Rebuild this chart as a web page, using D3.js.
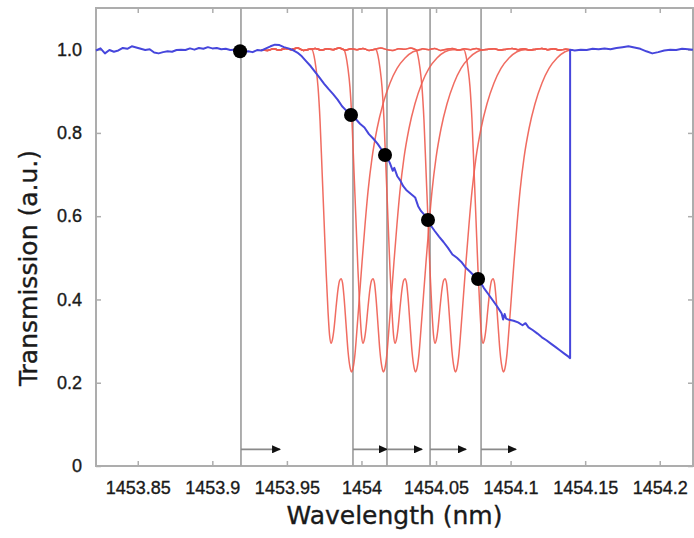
<!DOCTYPE html>
<html lang="en">
<head>
<meta charset="UTF-8">
<title>Transmission vs wavelength</title>
<script src="https://d3js.org/d3.v7.min.js"></script>
<style>
    body, html {
        margin: 0;
        background: #fff;
    }
    svg {
        display: block;
        font-family: 'DejaVu Sans', sans-serif;
    }
    .tick text, .title {
        fill: #1a1a1a;
        stroke: #1a1a1a;
        stroke-width: 0.35px;
    }
</style>
</head>
<body>
<svg id="chart" width="694" height="538"></svg>
<script>
// axis ticks
const wavelengthTicks = [1453.85, 1453.9, 1453.95, 1454, 1454.05, 1454.1, 1454.15, 1454.2];
const transTicks = [0, 0.2, 0.4, 0.6, 0.8, 1.0];

// blue trace (wavelength nm, transmission)
const blueWl = [
    1453.822, 1453.825, 1453.828, 1453.831, 1453.834, 1453.837, 1453.840, 1453.843, 1453.846, 1453.849,
    1453.852, 1453.855, 1453.858, 1453.861, 1453.864, 1453.867, 1453.870, 1453.873, 1453.876, 1453.879,
    1453.882, 1453.885, 1453.888, 1453.891, 1453.894, 1453.897, 1453.900, 1453.903, 1453.906, 1453.909,
    1453.912, 1453.915, 1453.918, 1453.921, 1453.924, 1453.927, 1453.930, 1453.933, 1453.936, 1453.939,
    1453.942, 1453.945, 1453.948, 1453.951, 1453.954, 1453.957, 1453.960, 1453.963, 1453.966, 1453.969,
    1453.972, 1453.975, 1453.978, 1453.981, 1453.984, 1453.987, 1453.990, 1453.993, 1453.996, 1453.999,
    1454.002, 1454.005, 1454.008, 1454.011, 1454.014, 1454.017, 1454.019, 1454.021, 1454.022, 1454.024,
    1454.026, 1454.028, 1454.030, 1454.032, 1454.034, 1454.036, 1454.038, 1454.040, 1454.043, 1454.046,
    1454.049, 1454.052, 1454.055, 1454.058, 1454.061, 1454.064, 1454.067, 1454.070, 1454.073, 1454.076,
    1454.079, 1454.082, 1454.085, 1454.088, 1454.091, 1454.093, 1454.094, 1454.095, 1454.096, 1454.097,
    1454.099, 1454.102, 1454.105, 1454.108, 1454.110, 1454.112, 1454.115, 1454.118, 1454.121, 1454.124,
    1454.127, 1454.130, 1454.133, 1454.136, 1454.139, 1454.1399, 1454.1399, 1454.143, 1454.147, 1454.151,
    1454.155, 1454.159, 1454.163, 1454.167, 1454.171, 1454.175, 1454.179, 1454.183, 1454.187, 1454.191,
    1454.195, 1454.199, 1454.203, 1454.207, 1454.211, 1454.215, 1454.219, 1454.2223
];
const blueT = [
    0.998, 1.003, 0.991, 0.999, 0.995, 0.998, 1.004, 1.002, 1.008, 1.005,
    1.002, 0.999, 1.001, 0.993, 0.991, 0.994, 0.996, 0.995, 0.999, 1.000,
    0.999, 1.003, 1.000, 1.004, 1.002, 1.006, 1.003, 1.004, 1.001, 1.002,
    0.999, 1.000, 0.998, 0.994, 0.996, 0.994, 0.999, 0.998, 1.003, 1.008,
    1.012, 1.011, 1.006, 1.003, 0.999, 0.993, 0.984, 0.972, 0.960, 0.946,
    0.932, 0.918, 0.905, 0.893, 0.880, 0.864, 0.853, 0.842, 0.834, 0.822,
    0.813, 0.797, 0.786, 0.773, 0.757, 0.743, 0.728, 0.709, 0.716, 0.696,
    0.686, 0.672, 0.663, 0.657, 0.651, 0.645, 0.624, 0.612, 0.600, 0.580,
    0.565, 0.551, 0.538, 0.524, 0.508, 0.500, 0.490, 0.476, 0.466, 0.455,
    0.446, 0.428, 0.413, 0.398, 0.383, 0.372, 0.366, 0.352, 0.365, 0.354,
    0.351, 0.349, 0.345, 0.338, 0.343, 0.333, 0.326, 0.318, 0.309, 0.302,
    0.294, 0.286, 0.278, 0.270, 0.262, 0.259, 1.000, 0.998, 1.000, 0.999,
    1.002, 1.001, 1.003, 1.001, 1.004, 1.006, 1.008, 1.005, 1.002, 0.996,
    0.991, 0.994, 0.998, 1.000, 0.999, 1.002, 1.001, 1.000
];

// red traces: common off-resonance baseline
const redBaseWl = [
    1453.933, 1453.937, 1453.941, 1453.945, 1453.949, 1453.953, 1453.957, 1453.961, 1453.965, 1453.969,
    1453.973, 1453.977, 1453.981, 1453.985, 1453.989, 1453.993, 1453.997, 1454.001, 1454.005, 1454.009,
    1454.013, 1454.017, 1454.021, 1454.025, 1454.029, 1454.033, 1454.037, 1454.041, 1454.045, 1454.049,
    1454.053, 1454.057, 1454.061, 1454.065, 1454.069, 1454.073, 1454.077, 1454.081, 1454.085, 1454.089,
    1454.093, 1454.097, 1454.101, 1454.105, 1454.109, 1454.113, 1454.117, 1454.121, 1454.125, 1454.129,
    1454.133, 1454.137, 1454.1399
];
const redBaseT = [
    1.000, 0.998, 1.002, 0.999, 1.003, 1.000, 1.004, 0.998, 1.001, 1.003,
    0.999, 1.002, 1.000, 1.004, 0.999, 1.002, 1.000, 1.003, 0.998, 1.001,
    1.004, 1.000, 0.998, 1.002, 1.001, 1.004, 0.999, 1.002, 1.000, 1.003,
    0.998, 1.001, 1.003, 0.999, 1.002, 1.000, 1.003, 0.999, 1.001, 1.002,
    0.999, 1.001, 1.003, 1.000, 1.002, 0.999, 1.001, 1.003, 1.000, 1.002,
    0.999, 1.001, 1.000
];
// split resonance, offset (nm) from first dip
const resOffset = [
    -0.01274, -0.01140, -0.01006, -0.00872, -0.00738, -0.00603, -0.00469, -0.00335, -0.00201, -0.00101,
    0, 0.00101, 0.00201, 0.00335, 0.00469, 0.0057, 0.00671, 0.00771, 0.00872, 0.01006,
    0.0114, 0.01274, 0.01375, 0.01475, 0.01609, 0.01743, 0.01911, 0.02079, 0.0228, 0.02481,
    0.02749, 0.03084, 0.03487, 0.03956, 0.04425, 0.04962, 0.05498, 0.06035
];
const resT = [
    1.0, 0.985, 0.955, 0.91, 0.83, 0.71, 0.59, 0.47, 0.37, 0.315,
    0.295, 0.305, 0.33, 0.38, 0.425, 0.445, 0.45, 0.44, 0.405, 0.34,
    0.275, 0.237, 0.226, 0.235, 0.27, 0.33, 0.41, 0.49, 0.58, 0.66,
    0.74, 0.81, 0.87, 0.92, 0.955, 0.98, 0.995, 1.0
];
// first-dip wavelength of each red trace
const redDips = [1453.9796, 1454.0010, 1454.0225, 1454.0493, 1454.0815];

// grey markers, dots on blue trace, arrows
const markerWl = [1453.9192, 1453.9943, 1454.0171, 1454.0460, 1454.0802];
const dotWl = [1453.9186, 1453.9930, 1454.0158, 1454.0446, 1454.0782];
const dotT = [0.996, 0.843, 0.747, 0.591, 0.449];
const arrowStart = [1453.9192, 1453.9943, 1454.0171, 1454.0460, 1454.0802];
const arrowEnd = [1453.9454, 1454.0171, 1454.0406, 1454.0701, 1454.1036];
const arrowT = 0.04;

const svg = d3.select("#chart");
const plotL = 96, plotR = 693, plotT = 8, plotB = 466;

const x = d3.scaleLinear().domain([1453.822, 1454.2223]).range([plotL, plotR]);
const y = d3.scaleLinear().domain([0, 1.1]).range([plotB, plotT]);

// frame
svg.append("rect")
    .attr("x", plotL).attr("y", plotT)
    .attr("width", plotR - plotL).attr("height", plotB - plotT)
    .attr("fill", "none")
    .attr("stroke", "#adadad")
    .attr("stroke-width", 2);

// axes with inward ticks
const fmtX = d => String(+d.toFixed(2));
const fmtY = d => d === 0 ? "0" : d.toFixed(1);

function styleAxis(g) {
    g.select(".domain").remove();
    g.selectAll(".tick line").attr("stroke", "#adadad").attr("stroke-width", 1.5);
    g.selectAll(".tick text").attr("font-size", 18);
}

svg.append("g").attr("transform", `translate(0,${plotB})`)
    .call(d3.axisBottom(x).tickValues(wavelengthTicks).tickFormat(fmtX).tickSize(-5).tickPadding(15))
    .call(styleAxis);
svg.append("g").attr("transform", `translate(0,${plotT})`)
    .call(d3.axisTop(x).tickValues(wavelengthTicks).tickFormat("").tickSize(-5))
    .call(styleAxis);
svg.append("g").attr("transform", `translate(${plotL},0)`)
    .call(d3.axisLeft(y).tickValues(transTicks).tickFormat(fmtY).tickSize(-5).tickPadding(14))
    .call(styleAxis);
svg.append("g").attr("transform", `translate(${plotR},0)`)
    .call(d3.axisRight(y).tickValues(transTicks).tickFormat("").tickSize(-5))
    .call(styleAxis);

// grey vertical markers
svg.append("g").selectAll("line")
    .data(markerWl)
    .join("line")
    .attr("x1", d => x(d)).attr("x2", d => x(d))
    .attr("y1", y(0)).attr("y2", plotT)
    .attr("stroke", "#a6a6a6")
    .attr("stroke-width", 1.8);

// red traces
const redLine = d3.line()
    .x(d => x(d[0]))
    .y(d => y(d[1]))
    .curve(d3.curveMonotoneX);

const redData = redDips.map(dip => {
    const pts = [];
    redBaseWl.forEach((w, i) => {
        if (w < dip + resOffset[0]) pts.push([w, redBaseT[i]]);
    });
    resOffset.forEach((o, i) => pts.push([dip + o, resT[i]]));
    redBaseWl.forEach((w, i) => {
        if (w > dip + resOffset[resOffset.length - 1]) pts.push([w, redBaseT[i]]);
    });
    return pts;
});

svg.append("g").selectAll("path")
    .data(redData)
    .join("path")
    .attr("d", redLine)
    .attr("fill", "none")
    .attr("stroke", "#ee5c50")
    .attr("stroke-width", 1.5)
    .attr("stroke-opacity", 0.9);

// blue trace
const blueData = blueWl.map((w, i) => [w, blueT[i]]);
svg.append("path")
    .datum(blueData)
    .attr("d", d3.line().x(d => x(d[0])).y(d => y(d[1])))
    .attr("fill", "none")
    .attr("stroke", "#4646dc")
    .attr("stroke-width", 2)
    .attr("stroke-linejoin", "round");

// dots
svg.append("g").selectAll("circle")
    .data(dotWl)
    .join("circle")
    .attr("cx", d => x(d))
    .attr("cy", (d, i) => y(dotT[i]))
    .attr("r", 7)
    .attr("fill", "#000");

// arrows
svg.append("defs").append("marker")
    .attr("id", "head")
    .attr("markerUnits", "userSpaceOnUse")
    .attr("markerWidth", 9).attr("markerHeight", 8)
    .attr("refX", 8).attr("refY", 4)
    .attr("orient", "auto")
    .append("path")
    .attr("d", "M0,0L9,4L0,8Z")
    .attr("fill", "#111");

svg.append("g").selectAll("line")
    .data(arrowStart)
    .join("line")
    .attr("x1", d => x(d))
    .attr("x2", (d, i) => x(arrowEnd[i]))
    .attr("y1", y(arrowT)).attr("y2", y(arrowT))
    .attr("stroke", "#8a8a8a")
    .attr("stroke-width", 1.8)
    .attr("marker-end", "url(#head)");

// axis titles
svg.append("text")
    .attr("class", "title")
    .attr("x", (plotL + plotR) / 2)
    .attr("y", 524)
    .attr("text-anchor", "middle")
    .attr("font-size", 25)
    .text("Wavelength (nm)");

svg.append("text")
    .attr("class", "title")
    .attr("transform", "translate(37,268) rotate(-90)")
    .attr("text-anchor", "middle")
    .attr("font-size", 25)
    .text("Transmission (a.u.)");
</script>
</body>
</html>
